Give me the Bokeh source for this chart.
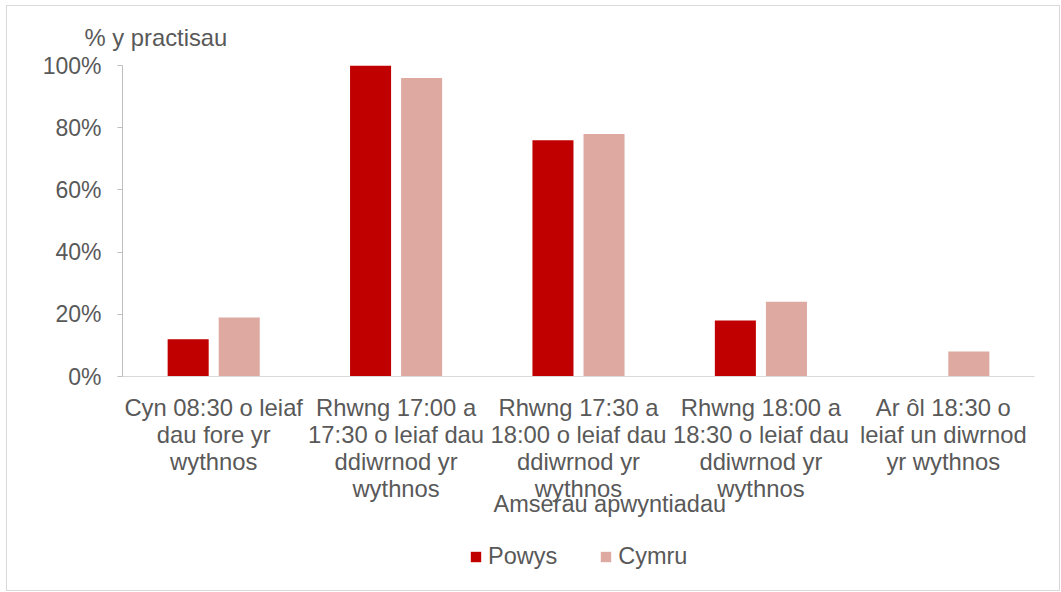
from bokeh.plotting import figure
from bokeh.layouts import column
from bokeh.models import (ColumnDataSource, Legend, LegendItem, Label, FactorRange,
                          Range1d, FixedTicker, PrintfTickFormatter)
from bokeh.transform import dodge
from bokeh.embed import file_html
from bokeh.resources import INLINE

categories = [
    "Cyn 08:30 o leiaf\ndau fore yr\nwythnos",
    "Rhwng 17:00 a\n17:30 o leiaf dau\nddiwrnod yr\nwythnos",
    "Rhwng 17:30 a\n18:00 o leiaf dau\nddiwrnod yr\nwythnos",
    "Rhwng 18:00 a\n18:30 o leiaf dau\nddiwrnod yr\nwythnos",
    "Ar ôl 18:30 o\nleiaf un diwrnod\nyr wythnos",
]
powys = [12, 100, 76, 18, 0]
cymru = [19, 96, 78, 24, 8]
series_names = ["Powys", "Cymru"]
y_ticks = [0, 20, 40, 60, 80, 100]
y_title = "% y practisau"
x_title = "Amserau apwyntiadau"

TEXT = "#595959"
FONT = "Liberation Sans"
C_POWYS = "#C00000"
C_CYMRU = "#DDA9A0"
W, H = 1052, 584

src = ColumnDataSource(dict(cat=categories, powys=powys, cymru=cymru))

# ---- main chart ----
p = figure(x_range=FactorRange(*categories), y_range=Range1d(0, 100),
           width=W, height=H, output_backend="svg", toolbar_location=None,
           min_border_left=115, min_border_right=25, min_border_top=59, min_border_bottom=214,
           outline_line_color=None)

r1 = p.vbar(x=dodge("cat", -0.14, range=p.x_range), top="powys", width=0.225, source=src,
            fill_color=C_POWYS, line_color=None)
r2 = p.vbar(x=dodge("cat", 0.14, range=p.x_range), top="cymru", width=0.225, source=src,
            fill_color=C_CYMRU, line_color=None)

p.xgrid.visible = False
p.ygrid.visible = False

p.title.text = y_title
p.title.align = "left"
p.title.offset = -38
p.title.standoff = 29
p.title.text_font = FONT
p.title.text_font_size = "23.8px"
p.title.text_font_style = "normal"
p.title.text_color = TEXT

ya = p.yaxis[0]
ya.ticker = FixedTicker(ticks=y_ticks)
ya.formatter = PrintfTickFormatter(format="%d%%")
ya.axis_line_color = "#BFBFBF"
ya.major_tick_line_color = "#BFBFBF"
ya.major_tick_out = 5
ya.major_tick_in = 0
ya.minor_tick_line_color = None
ya.major_label_text_font = FONT
ya.major_label_text_font_size = "23px"
ya.major_label_text_color = TEXT
ya.major_label_standoff = 16

xa = p.xaxis[0]
xa.axis_line_color = "#D9D9D9"
xa.major_tick_line_color = None
xa.minor_tick_line_color = None
xa.major_label_text_font = FONT
xa.major_label_text_font_size = "23.8px"
xa.major_label_text_color = TEXT
xa.major_label_text_line_height = 1.0
xa.major_label_standoff = 11
xa.major_label_text_align = "center"

# ---- transparent overlay for x title and legend (x in page pixels, frame aligned with main) ----
ov = figure(x_range=Range1d(122, 1034), y_range=Range1d(H, 0), width=W, height=H,
            output_backend="svg", toolbar_location=None, x_axis_type=None, y_axis_type=None,
            min_border=0, outline_line_color=None,
            background_fill_color=None, border_fill_color=None)
ov.grid.visible = False
ov.margin = (-H, 0, 0, 0)

# legend proxies (zero-height, off-screen)
proxy = ColumnDataSource(dict(x=[-1000], top=[0]))
d1 = ov.vbar(x="x", top="top", width=1, source=proxy, fill_color=C_POWYS, line_color=None)
d2 = ov.vbar(x="x", top="top", width=1, source=proxy, fill_color=C_CYMRU, line_color=None)

ov.add_layout(Label(x=493, y=497, text=x_title, text_font=FONT, text_font_size="23.5px",
                    text_color=TEXT, text_align="left", text_baseline="alphabetic"))

legend = Legend(items=[LegendItem(label=series_names[0], renderers=[d1]),
                       LegendItem(label=series_names[1], renderers=[d2])],
                orientation="horizontal", location=(347, 20),
                glyph_width=13, glyph_height=13, label_standoff=6, spacing=42,
                padding=0, margin=0, border_line_color=None, background_fill_alpha=0,
                label_text_font=FONT, label_text_font_size="23.5px", label_text_color=TEXT)
ov.add_layout(legend, "center")

layout = column(p, ov, spacing=0)
layout.margin = (5, 0, 0, 6)
layout.styles = {"border": "1px solid #D9D9D9"}

open("out.html", "w").write(file_html(layout, INLINE))
